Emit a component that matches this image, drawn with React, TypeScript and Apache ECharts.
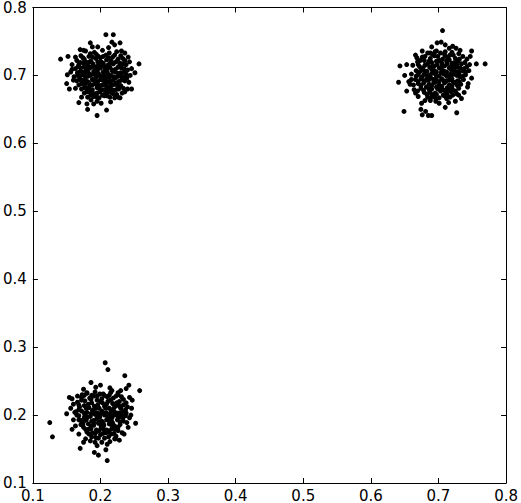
import React, { useEffect, useRef } from "react";
import * as echarts from "echarts";

const xTicks = [0.1, 0.2, 0.3, 0.4, 0.5, 0.6, 0.7, 0.8];
const yTicks = [0.1, 0.2, 0.3, 0.4, 0.5, 0.6, 0.7, 0.8];

const clusterTopLeft: number[][] = [
  [0.178,0.736],[0.191,0.734],[0.203,0.737],[0.213,0.733],[0.224,0.735],
  [0.171,0.729],[0.183,0.728],[0.194,0.731],[0.200,0.726],[0.208,0.730],[0.218,0.727],[0.230,0.729],
  [0.165,0.722],[0.176,0.724],[0.186,0.721],[0.193,0.725],[0.201,0.720],[0.209,0.723],[0.216,0.721],[0.226,0.724],[0.236,0.722],
  [0.168,0.716],[0.175,0.718],[0.181,0.715],[0.189,0.717],[0.196,0.714],[0.204,0.718],[0.211,0.715],[0.219,0.717],[0.228,0.714],[0.238,0.716],
  [0.163,0.710],[0.171,0.711],[0.179,0.709],[0.186,0.712],[0.193,0.708],[0.200,0.711],[0.207,0.709],[0.214,0.712],[0.222,0.709],[0.231,0.711],[0.240,0.708],
  [0.166,0.704],[0.175,0.705],[0.183,0.703],[0.190,0.706],[0.197,0.703],[0.204,0.705],[0.211,0.702],[0.218,0.706],[0.226,0.703],[0.235,0.705],
  [0.161,0.698],[0.170,0.699],[0.178,0.697],[0.185,0.700],[0.193,0.697],[0.201,0.699],[0.208,0.696],[0.215,0.700],[0.223,0.697],[0.231,0.699],[0.239,0.696],
  [0.165,0.692],[0.173,0.693],[0.181,0.691],[0.188,0.694],[0.196,0.691],[0.203,0.693],[0.211,0.690],[0.219,0.693],[0.227,0.691],[0.236,0.692],
  [0.168,0.686],[0.177,0.687],[0.184,0.685],[0.192,0.688],[0.199,0.685],[0.206,0.687],[0.214,0.684],[0.222,0.687],[0.230,0.685],
  [0.172,0.680],[0.180,0.681],[0.188,0.679],[0.195,0.682],[0.203,0.679],[0.211,0.681],[0.219,0.678],[0.227,0.680],
  [0.176,0.674],[0.184,0.675],[0.192,0.673],[0.199,0.676],[0.207,0.673],[0.215,0.675],[0.224,0.672],
  [0.181,0.668],[0.190,0.669],[0.198,0.667],[0.206,0.670],[0.214,0.668],
  [0.185,0.732],[0.197,0.728],[0.212,0.726],[0.180,0.719],[0.191,0.713],[0.205,0.714],[0.217,0.708],[0.189,0.702],[0.200,0.694],[0.213,0.697],
  [0.183,0.689],[0.195,0.686],[0.209,0.684],[0.224,0.689],[0.187,0.676],[0.203,0.671],[0.174,0.701],[0.229,0.718],[0.196,0.720],[0.210,0.705],
  [0.174,0.726],[0.188,0.727],[0.204,0.728],[0.221,0.730],[0.233,0.725],
  [0.170,0.719],[0.184,0.720],[0.199,0.716],[0.214,0.718],[0.223,0.720],[0.233,0.717],
  [0.167,0.713],[0.176,0.713],[0.183,0.710],[0.197,0.710],[0.210,0.711],[0.226,0.712],[0.235,0.710],
  [0.170,0.706],[0.179,0.704],[0.194,0.704],[0.207,0.703],[0.222,0.705],[0.230,0.704],[0.238,0.702],
  [0.166,0.700],[0.182,0.699],[0.197,0.700],[0.205,0.698],[0.219,0.698],[0.227,0.699],[0.235,0.698],
  [0.169,0.694],[0.177,0.692],[0.191,0.692],[0.207,0.692],[0.215,0.691],[0.231,0.693],
  [0.172,0.688],[0.188,0.686],[0.203,0.686],[0.218,0.686],[0.226,0.684],
  [0.176,0.682],[0.184,0.680],[0.199,0.680],[0.207,0.679],[0.215,0.681],[0.223,0.679],
  [0.180,0.676],[0.195,0.674],[0.211,0.676],[0.219,0.673],
  [0.186,0.671],[0.194,0.669],[0.210,0.670],
  [0.158,0.716],[0.160,0.693],[0.163,0.727],[0.170,0.738],[0.196,0.742],[0.212,0.741],[0.236,0.733],[0.243,0.720],[0.244,0.700],[0.242,0.690],
  [0.236,0.676],[0.226,0.668],[0.215,0.661],[0.195,0.662],[0.172,0.668],[0.163,0.681],[0.158,0.709],[0.188,0.742],[0.232,0.674],[0.186,0.664],
  [0.208,0.760],[0.219,0.760],[0.185,0.748],[0.217,0.749],[0.221,0.745],[0.229,0.748],[0.141,0.724],[0.152,0.728],[0.175,0.737],[0.231,0.736],
  [0.241,0.727],[0.257,0.717],[0.246,0.710],[0.251,0.704],[0.156,0.705],[0.151,0.701],[0.150,0.688],[0.154,0.680],[0.240,0.680],[0.246,0.680],
  [0.234,0.681],[0.168,0.660],[0.180,0.658],[0.190,0.658],[0.201,0.659],[0.181,0.650],[0.209,0.649],[0.195,0.641],[0.221,0.667],[0.229,0.667],
];

const clusterTopRight: number[][] = [
  [0.684,0.733],[0.697,0.736],[0.709,0.731],[0.720,0.734],
  [0.676,0.727],[0.688,0.725],[0.699,0.728],[0.706,0.724],[0.714,0.727],[0.725,0.725],[0.736,0.728],
  [0.669,0.720],[0.679,0.722],[0.690,0.719],[0.697,0.721],[0.705,0.718],[0.712,0.721],[0.720,0.718],[0.729,0.721],[0.739,0.719],
  [0.672,0.713],[0.680,0.715],[0.687,0.712],[0.694,0.714],[0.701,0.711],[0.709,0.714],[0.716,0.711],[0.724,0.713],[0.732,0.711],[0.742,0.713],
  [0.667,0.707],[0.675,0.708],[0.683,0.706],[0.690,0.709],[0.697,0.705],[0.705,0.708],[0.712,0.705],[0.719,0.708],[0.727,0.705],[0.736,0.707],
  [0.670,0.701],[0.679,0.702],[0.686,0.700],[0.694,0.703],[0.701,0.699],[0.708,0.702],[0.715,0.699],[0.723,0.702],[0.731,0.699],[0.740,0.701],
  [0.666,0.694],[0.674,0.695],[0.682,0.693],[0.689,0.696],[0.697,0.693],[0.705,0.695],[0.712,0.692],[0.720,0.695],[0.728,0.692],[0.737,0.694],
  [0.670,0.688],[0.678,0.689],[0.686,0.687],[0.693,0.690],[0.701,0.686],[0.709,0.689],[0.716,0.686],[0.724,0.689],[0.733,0.687],
  [0.674,0.681],[0.682,0.683],[0.690,0.680],[0.697,0.683],[0.705,0.680],[0.713,0.682],[0.721,0.679],[0.730,0.681],
  [0.679,0.675],[0.687,0.676],[0.695,0.674],[0.703,0.677],[0.711,0.674],[0.719,0.676],[0.727,0.673],
  [0.684,0.668],[0.693,0.669],[0.701,0.667],[0.709,0.670],[0.717,0.668],
  [0.691,0.731],[0.703,0.733],[0.717,0.730],[0.684,0.717],[0.698,0.716],[0.713,0.717],[0.727,0.716],[0.690,0.703],[0.704,0.704],[0.718,0.702],
  [0.695,0.690],[0.708,0.692],[0.722,0.690],[0.686,0.694],[0.699,0.680],[0.714,0.678],[0.690,0.672],[0.707,0.671],[0.732,0.698],[0.676,0.698],
  [0.680,0.728],[0.694,0.729],[0.710,0.728],[0.722,0.730],[0.731,0.724],
  [0.673,0.722],[0.686,0.721],[0.701,0.722],[0.716,0.723],[0.724,0.719],[0.734,0.717],
  [0.670,0.716],[0.677,0.711],[0.691,0.712],[0.705,0.713],[0.719,0.713],[0.728,0.712],[0.738,0.710],
  [0.672,0.705],[0.680,0.706],[0.694,0.707],[0.709,0.706],[0.723,0.707],[0.731,0.705],[0.740,0.705],
  [0.667,0.699],[0.683,0.699],[0.697,0.699],[0.712,0.699],[0.719,0.700],[0.727,0.700],[0.736,0.699],
  [0.670,0.691],[0.679,0.692],[0.693,0.694],[0.701,0.691],[0.716,0.693],[0.731,0.691],
  [0.674,0.685],[0.690,0.685],[0.705,0.684],[0.720,0.684],[0.728,0.685],
  [0.678,0.678],[0.686,0.680],[0.701,0.680],[0.709,0.678],[0.717,0.680],[0.725,0.677],
  [0.683,0.672],[0.697,0.672],[0.713,0.672],[0.721,0.671],
  [0.688,0.666],[0.696,0.666],[0.712,0.666],
  [0.662,0.715],[0.660,0.702],[0.663,0.686],[0.668,0.726],[0.676,0.736],[0.690,0.742],[0.716,0.740],[0.732,0.737],[0.742,0.724],[0.745,0.707],
  [0.743,0.683],[0.738,0.675],[0.734,0.666],[0.715,0.660],[0.701,0.659],[0.680,0.663],[0.669,0.677],[0.726,0.740],[0.746,0.716],[0.660,0.694],
  [0.706,0.766],[0.698,0.748],[0.704,0.749],[0.710,0.745],[0.721,0.743],[0.666,0.730],[0.688,0.733],[0.695,0.735],[0.710,0.735],[0.730,0.732],
  [0.749,0.736],[0.747,0.728],[0.756,0.717],[0.769,0.717],[0.643,0.714],[0.653,0.716],[0.650,0.700],[0.641,0.690],[0.656,0.691],[0.658,0.687],
  [0.653,0.677],[0.664,0.679],[0.666,0.674],[0.744,0.688],[0.749,0.696],[0.670,0.669],[0.675,0.659],[0.688,0.663],[0.696,0.662],[0.730,0.671],
  [0.725,0.662],[0.649,0.647],[0.674,0.650],[0.681,0.647],[0.676,0.642],[0.685,0.641],[0.690,0.641],[0.710,0.653],[0.727,0.645],
];

const clusterBottomLeft: number[][] = [
  [0.180,0.232],[0.192,0.234],[0.204,0.231],[0.215,0.233],[0.226,0.230],
  [0.172,0.226],[0.184,0.225],[0.195,0.228],[0.202,0.224],[0.210,0.227],[0.219,0.225],[0.231,0.227],
  [0.166,0.219],[0.177,0.221],[0.187,0.218],[0.195,0.222],[0.203,0.218],[0.211,0.220],[0.218,0.217],[0.228,0.220],[0.238,0.218],
  [0.169,0.212],[0.176,0.214],[0.183,0.211],[0.191,0.213],[0.198,0.210],[0.206,0.213],[0.213,0.210],[0.221,0.212],[0.230,0.210],[0.240,0.212],
  [0.164,0.205],[0.172,0.206],[0.180,0.204],[0.188,0.207],[0.195,0.203],[0.202,0.206],[0.209,0.203],[0.216,0.206],[0.224,0.203],[0.233,0.205],
  [0.168,0.199],[0.177,0.200],[0.185,0.198],[0.192,0.201],[0.199,0.197],[0.206,0.200],[0.213,0.197],[0.220,0.200],[0.228,0.197],[0.237,0.199],
  [0.171,0.192],[0.179,0.193],[0.187,0.191],[0.194,0.194],[0.202,0.191],[0.209,0.193],[0.217,0.190],[0.225,0.193],[0.234,0.191],
  [0.174,0.186],[0.182,0.187],[0.190,0.185],[0.197,0.188],[0.205,0.185],[0.213,0.187],[0.221,0.184],[0.229,0.186],
  [0.178,0.179],[0.186,0.180],[0.194,0.178],[0.201,0.181],[0.209,0.178],[0.217,0.180],[0.226,0.177],
  [0.183,0.172],[0.192,0.173],[0.200,0.171],[0.208,0.174],[0.216,0.172],
  [0.187,0.229],[0.199,0.231],[0.213,0.229],[0.182,0.216],[0.196,0.215],[0.209,0.216],[0.224,0.215],[0.186,0.202],[0.200,0.202],[0.214,0.201],
  [0.190,0.189],[0.204,0.188],[0.218,0.188],[0.195,0.176],[0.211,0.175],[0.176,0.196],[0.231,0.201],[0.197,0.166],[0.206,0.166],[0.221,0.165],
  [0.176,0.229],[0.190,0.228],[0.206,0.229],[0.223,0.228],[0.234,0.223],
  [0.172,0.222],[0.186,0.223],[0.200,0.220],[0.215,0.222],[0.224,0.218],[0.234,0.215],
  [0.168,0.215],[0.179,0.210],[0.193,0.210],[0.208,0.210],[0.219,0.209],[0.228,0.213],[0.237,0.208],
  [0.168,0.208],[0.176,0.203],[0.191,0.204],[0.205,0.203],[0.220,0.205],[0.228,0.203],[0.238,0.203],
  [0.165,0.200],[0.181,0.197],[0.196,0.198],[0.210,0.199],[0.217,0.196],[0.225,0.199],[0.233,0.196],
  [0.168,0.193],[0.175,0.190],[0.190,0.192],[0.198,0.190],[0.213,0.192],[0.229,0.190],
  [0.171,0.186],[0.186,0.184],[0.201,0.184],[0.217,0.185],[0.226,0.182],
  [0.175,0.182],[0.182,0.179],[0.198,0.177],[0.205,0.179],[0.213,0.177],[0.222,0.179],
  [0.180,0.175],[0.188,0.174],[0.204,0.173],[0.220,0.173],
  [0.187,0.168],[0.193,0.167],[0.212,0.168],
  [0.160,0.216],[0.160,0.193],[0.163,0.184],[0.166,0.228],[0.175,0.238],[0.193,0.241],[0.214,0.240],[0.230,0.236],[0.243,0.226],[0.246,0.210],
  [0.245,0.200],[0.241,0.182],[0.232,0.174],[0.228,0.163],[0.210,0.157],[0.195,0.155],[0.175,0.160],[0.168,0.172],[0.247,0.222],[0.162,0.204],
  [0.207,0.277],[0.211,0.267],[0.236,0.258],[0.242,0.244],[0.238,0.239],[0.258,0.236],[0.186,0.248],[0.200,0.244],[0.154,0.226],[0.158,0.224],
  [0.173,0.230],[0.180,0.233],[0.217,0.236],[0.226,0.233],[0.156,0.210],[0.150,0.202],[0.125,0.189],[0.129,0.168],[0.252,0.188],[0.243,0.196],
  [0.239,0.189],[0.158,0.179],[0.235,0.172],[0.223,0.169],[0.178,0.165],[0.185,0.162],[0.192,0.160],[0.202,0.160],[0.214,0.161],[0.222,0.165],
  [0.170,0.151],[0.208,0.149],[0.191,0.145],[0.197,0.141],[0.210,0.133],
];

const FONT = "DejaVu Sans";

export default function App() {
  const ref = useRef<HTMLDivElement>(null);
  useEffect(() => {
    if (!ref.current) return;
    const chart = echarts.init(ref.current, null, { renderer: "svg" });
    const axisCommon = {
      type: "value" as const,
      min: xTicks[0],
      max: xTicks[xTicks.length - 1],
      interval: 0.1,
      splitLine: { show: false },
      axisLine: { show: true, onZero: false, lineStyle: { color: "#000", width: 1 } },
      axisTick: { show: true, inside: true, length: 5, lineStyle: { color: "#000", width: 1 } },
    };
    const label = {
      show: true,
      color: "#000",
      fontFamily: FONT,
      fontSize: 15,
      hideOverlap: false,
      showMinLabel: true,
      showMaxLabel: true,
      formatter: (v: number) => v.toFixed(1),
    };
    chart.setOption({
      animation: false,
      backgroundColor: "#fff",
      grid: { left: 30, top: 5, right: 11, bottom: 17, containLabel: false },
      xAxis: [
        { ...axisCommon, position: "bottom", axisLabel: { ...label, margin: 5 } },
        { ...axisCommon, position: "top", axisLabel: { show: false } },
      ],
      yAxis: [
        { ...axisCommon, min: yTicks[0], max: yTicks[yTicks.length - 1], position: "left", axisLabel: { ...label, margin: 6 } },
        { ...axisCommon, min: yTicks[0], max: yTicks[yTicks.length - 1], position: "right", axisLabel: { show: false } },
      ],
      series: [clusterTopLeft, clusterTopRight, clusterBottomLeft].map((d) => ({
        type: "scatter",
        xAxisIndex: 0,
        yAxisIndex: 0,
        data: d,
        symbol: "circle",
        symbolSize: 5,
        itemStyle: { color: "#000", opacity: 1 },
        silent: true,
      })),
    });
    return () => chart.dispose();
  }, []);
  return <div ref={ref} style={{ width: 521, height: 503, position: "absolute", left: 0, top: 0 }} />;
}
